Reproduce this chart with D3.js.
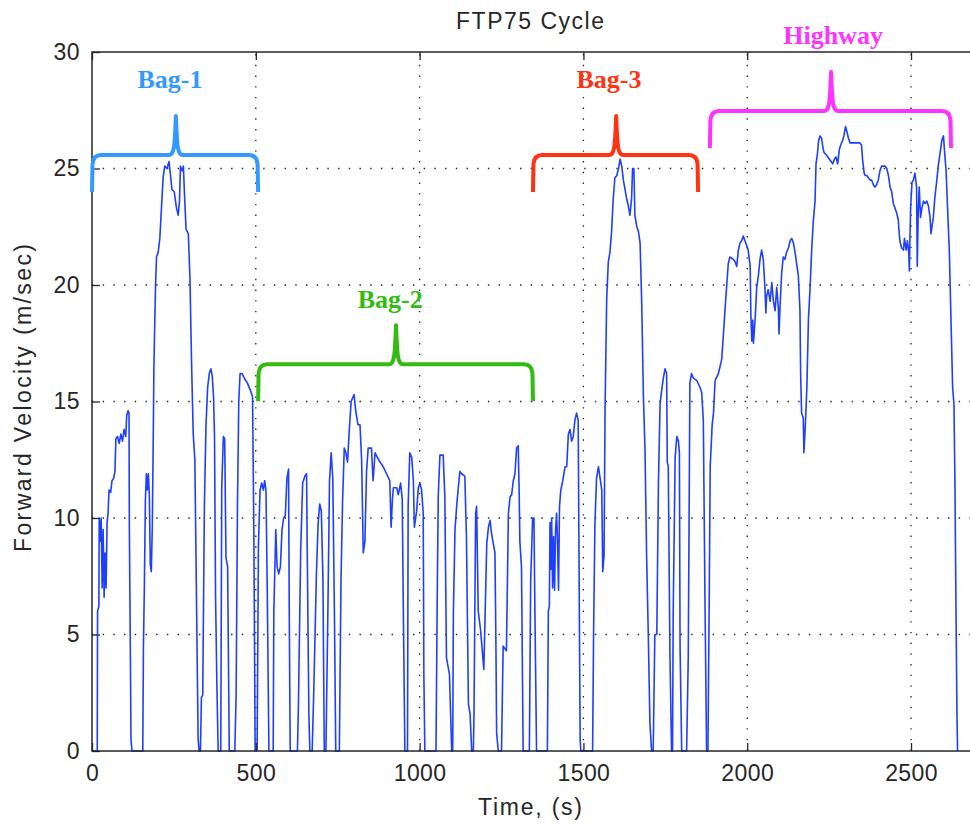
<!DOCTYPE html>
<html><head><meta charset="utf-8">
<script src="https://cdn.jsdelivr.net/npm/d3@7"></script>
<style>
html,body{margin:0;padding:0;background:#fff;}
svg{display:block;}
</style></head><body>
<svg id="chart" width="970" height="824"></svg>
<script>
// ---------- data ----------
const titleText = "FTP75 Cycle";
const xLabelText = "Time, (s)";
const yLabelText = "Forward Velocity (m/sec)";
const xTicks = [0, 500, 1000, 1500, 2000, 2500];
const yTicks = [0, 5, 10, 15, 20, 25, 30];

// [time s, velocity m/s]
const bag1 = [[0,0],[16,0],[17,6.0],[21,6.2],[22,10.0],[25,9.0],[28,10.0],[31,7.0],[34,9.5],[37,6.6],[40,8.5],[43,7.0],[46,9.8],[49,10.2],[52,11.2],[57,11.1],[61,11.6],[66,11.7],[70,12.0],[73,13.4],[78,13.5],[83,13.2],[88,13.6],[93,13.3],[98,13.8],[103,13.5],[106,14.4],[110,14.6],[113,14.5],[114,9.6],[117,4.5],[119,0.5],[122,0],
[155,0],[157,4.5],[160,7.2],[163,10.8],[166,11.9],[169,11.2],[172,11.9],[175,11.0],[178,8.0],[181,7.7],[184,9.6],[187,13.5],[189,16.5],[191,18.0],[194,20.0],[197,21.2],[202,21.4],[207,22.0],[212,23.3],[217,24.6],[222,25.1],[229,25.0],[235,25.3],[239,24.8],[244,24.1],[251,24.0],[258,23.3],[263,23.0],[267,23.6],[270,25.1],[275,24.9],[279,25.1],[282,24.0],[287,22.4],[294,22.2],[299,20.3],[304,16.6],[309,13.6],[314,12.5],[317,8.9],[321,4.0],[324,0.5],[327,0],
[331,0],[334,2.3],[338,2.4],[343,10.5],[348,14.0],[353,15.6],[358,16.2],[363,16.4],[367,16.1],[371,15.2],[374,13.5],[377,6.8],[381,3.0],[385,0],
[393,0],[396,11.3],[401,13.5],[405,13.4],[409,8.3],[414,7.9],[419,0],
[436,0],[440,2.5],[444,10.5],[448,15.0],[452,16.2],[458,16.2],[465,16.0],[474,15.8],[483,15.5],[490,15.2],[494,9.5],[498,0],[504,0]];

const bag2 = [[504,0],[506,4.5],[508,8.8],[513,11.2],[518,11.5],[523,11.2],[527,11.6],[531,11.2],[535,6.9],[540,0],
[553,0],[555,6.0],[561,9.5],[565,7.9],[570,7.6],[575,7.9],[580,9.5],[585,10.0],[590,10.1],[595,11.7],[600,12.1],[602,6.2],[605,0],
[627,0],[630,1.9],[637,8.6],[643,11.5],[650,11.8],[655,11.9],[657,8.6],[662,1.6],[665,0],
[672,0],[677,2.6],[685,7.6],[690,9.7],[695,10.6],[700,10.3],[705,7.3],[709,0],
[714,0],[720,6.0],[725,11.6],[730,12.8],[735,11.7],[740,5.9],[744,0],
[755,0],[760,7.3],[765,10.8],[770,13.0],[775,12.8],[780,12.4],[785,13.7],[791,15.0],[800,15.3],[805,14.6],[812,14.0],[818,14.0],[823,12.5],[828,8.5],[833,9.0],[838,12.0],[843,13.0],[853,13.0],[858,11.6],[864,12.8],[871,12.6],[879,12.4],[889,12.2],[899,11.9],[909,11.6],[913,9.6],[917,10.8],[920,11.3],[930,11.3],[935,11.0],[942,11.5],[947,10.8],[950,6.5],[955,0],
[963,0],[965,10.5],[970,12.8],[976,12.6],[981,11.6],[984,9.6],[991,10.3],[996,11.3],[1001,11.5],[1006,11.2],[1011,10.2],[1013,3.2],[1016,0],
[1050,0],[1054,7.0],[1057,11.0],[1062,12.7],[1072,12.7],[1077,10.9],[1082,4.0],[1091,3.3],[1098,0],
[1101,0],[1103,5.9],[1108,9.5],[1113,10.5],[1118,11.3],[1123,12.0],[1128,11.9],[1138,11.8],[1143,9.2],[1149,2.0],[1154,1.6],[1159,0],
[1164,0],[1166,1.6],[1171,10.2],[1174,10.5],[1179,6.0],[1186,5.2],[1196,3.5],[1205,8.9],[1210,9.6],[1215,9.9],[1220,9.3],[1225,8.9],[1230,8.5],[1233,4.5],[1235,0.8],[1240,0],
[1250,0],[1255,4.5],[1265,4.3],[1271,10.2],[1276,10.9],[1281,11.0],[1286,11.6],[1291,11.9],[1296,13.0],[1301,13.1],[1304,11.0],[1306,9.0],[1311,7.9],[1316,0],
[1335,0],[1339,7.3],[1345,10.0],[1349,10.0],[1352,5.9],[1357,0],[1390,0]];

const bag3 = [[1390,0],[1393,6.0],[1396,6.2],[1398,9.8],[1401,7.8],[1403,10.0],[1406,7.0],[1409,9.2],[1412,6.9],[1415,9.5],[1418,10.2],[1421,9.0],[1424,6.9],[1427,10.5],[1431,11.2],[1437,11.6],[1444,12.2],[1449,12.2],[1454,13.6],[1459,13.8],[1464,13.3],[1469,13.5],[1474,14.2],[1479,14.5],[1484,14.2],[1486,9.6],[1488,5.0],[1490,0.5],[1492,0],
[1528,0],[1531,5.0],[1535,9.7],[1540,11.7],[1546,12.2],[1551,11.7],[1556,11.2],[1559,7.7],[1563,8.4],[1566,14.6],[1571,19.4],[1576,21.0],[1581,21.4],[1586,22.3],[1591,23.7],[1596,24.6],[1602,24.7],[1607,25.0],[1612,25.4],[1617,25.1],[1622,24.5],[1627,24.1],[1632,23.7],[1637,23.4],[1642,23.0],[1647,23.7],[1650,25.0],[1654,25.0],[1657,23.0],[1663,22.5],[1668,22.3],[1673,21.8],[1678,19.2],[1683,15.3],[1688,12.9],[1693,8.3],[1698,5.0],[1703,1.2],[1708,0],
[1713,0],[1718,5.0],[1724,5.0],[1729,11.5],[1734,14.9],[1739,15.5],[1744,16.0],[1749,16.4],[1754,16.2],[1756,12.4],[1759,12.2],[1764,4.3],[1769,0],
[1772,0],[1774,5.9],[1780,12.6],[1785,13.5],[1790,13.3],[1793,12.8],[1795,4.5],[1800,0],
[1815,0],[1820,4.0],[1825,15.8],[1830,16.2],[1836,16.0],[1846,15.9],[1856,15.6],[1861,15.4],[1866,14.2],[1871,6.6],[1876,0],[1880,0]];

const highway = [[1880,0],[1884,6.5],[1887,12.2],[1893,14.0],[1897,14.5],[1902,15.9],[1912,16.2],[1917,16.5],[1922,16.8],[1927,17.8],[1932,18.9],[1937,19.9],[1942,20.9],[1947,21.2],[1958,21.1],[1963,21.0],[1968,20.8],[1973,21.5],[1978,21.8],[1983,21.9],[1988,22.1],[1993,21.9],[1998,21.7],[2003,21.5],[2009,20.8],[2011,18.8],[2014,17.6],[2017,18.5],[2019,17.5],[2024,18.5],[2029,19.9],[2034,20.4],[2039,21.1],[2044,21.5],[2049,21.1],[2054,19.9],[2057,18.8],[2059,19.5],[2064,19.8],[2070,19.3],[2075,20.1],[2080,19.3],[2085,18.9],[2090,19.9],[2095,19.0],[2097,17.9],[2100,19.0],[2105,20.5],[2110,21.2],[2115,21.1],[2120,21.4],[2126,21.6],[2131,21.9],[2136,22.0],[2141,21.8],[2146,21.4],[2151,20.9],[2156,20.4],[2161,18.9],[2163,16.2],[2166,14.5],[2171,14.3],[2173,12.8],[2176,13.6],[2179,14.5],[2182,15.6],[2187,18.6],[2192,19.9],[2197,21.6],[2202,22.8],[2207,23.6],[2210,25.2],[2214,25.6],[2218,26.2],[2222,26.4],[2227,26.3],[2230,26.0],[2234,25.7],[2240,25.6],[2246,25.5],[2251,25.4],[2256,25.3],[2261,25.2],[2266,25.4],[2271,25.5],[2276,25.2],[2281,25.8],[2285,26.0],[2291,26.2],[2295,26.4],[2300,26.8],[2304,26.6],[2309,26.3],[2314,26.1],[2324,26.1],[2334,26.1],[2344,26.1],[2349,26.0],[2352,25.4],[2357,24.8],[2360,24.7],[2365,24.7],[2370,24.6],[2375,24.5],[2380,24.5],[2385,24.3],[2390,24.2],[2395,24.3],[2400,24.5],[2405,24.9],[2410,25.1],[2416,25.1],[2421,25.1],[2426,25.0],[2431,24.7],[2436,24.2],[2441,24.0],[2446,23.5],[2451,23.3],[2456,23.1],[2461,22.8],[2464,22.2],[2466,21.9],[2471,21.6],[2477,21.5],[2480,22.0],[2485,21.5],[2489,21.9],[2493,21.4],[2495,20.6],[2497,22.2],[2499,23.4],[2503,24.4],[2507,24.5],[2512,24.8],[2517,24.2],[2519,20.8],[2522,23.1],[2525,24.2],[2529,22.9],[2533,23.3],[2538,23.6],[2543,23.5],[2548,23.6],[2553,23.4],[2558,22.9],[2561,22.2],[2564,22.5],[2568,22.9],[2573,23.8],[2578,24.4],[2583,25.1],[2588,25.6],[2594,26.2],[2599,26.4],[2602,25.8],[2607,24.9],[2611,23.5],[2617,21.4],[2622,18.5],[2627,15.6],[2631,14.9],[2634,11.6],[2637,6.5],[2640,1.8],[2642,0]];

// bracket annotations: label, time span, brace tip time (data units)
const phaseLabels = ["Bag-1", "Bag-2", "Bag-3", "Highway"];
const phaseStart  = [0, 507, 1346, 1886];
const phaseEnd    = [507, 1346, 1850, 2622];
const phaseTip    = [256, 928, 1600, 2256];
const braceLevel  = [25.58, 16.6, 25.58, 27.47];
const labelCenter = [238, 910, 1578, 2262];
const labelLevel  = [28.45, 19.0, 28.45, 30.33];

// ---------- drawing ----------
const phaseColors = ["#3399ff", "#33bb11", "#ff3311", "#ff33ff"];
const padL = 92, padR = 970, padT = 52, padB = 751;
const svg = d3.select("#chart");
const x = d3.scaleLinear().domain([0, 2680]).range([padL, padR]);
const y = d3.scaleLinear().domain([0, 30]).range([padB, padT]);
const font = "'Liberation Sans', Arial, Helvetica, sans-serif";
const ink = "#262626";

// grid
const grid = svg.append("g").attr("stroke", "#222").attr("stroke-width", 1.3)
  .attr("stroke-dasharray", "1.4,9.3").attr("fill", "none");
grid.selectAll("line.v").data(xTicks.filter(d => d > 0)).join("line").attr("class", "v")
  .attr("x1", d => x(d)).attr("x2", d => x(d)).attr("y1", y(0)).attr("y2", y(30));
grid.selectAll("line.h").data(yTicks.filter(d => d > 0 && d < 30)).join("line").attr("class", "h")
  .attr("x1", x(0)).attr("x2", x(2680)).attr("y1", d => y(d)).attr("y2", d => y(d));

// data line
const line = d3.line().x(d => x(d[0])).y(d => y(d[1]));
[bag1, bag2, bag3, highway].forEach(seg => {
  svg.append("path").datum(seg).attr("d", line)
    .attr("fill", "none").attr("stroke", "#1f3fff").attr("stroke-width", 1.6)
    .attr("stroke-linejoin", "round");
});

// axes
function styleAxis(g) {
  g.select(".domain").remove();
  g.selectAll(".tick line").attr("stroke", ink).attr("stroke-width", 1.3);
  g.selectAll(".tick text").attr("fill", ink).attr("font-size", null).attr("font-family", null)
    .style("font-family", font).style("font-size", "23px").style("letter-spacing", "0.4px");
}
svg.append("g").attr("transform", `translate(0,${padB})`)
  .call(d3.axisBottom(x).tickValues(xTicks).tickSizeInner(-8).tickSizeOuter(0).tickPadding(14).tickFormat(d3.format("d")))
  .call(styleAxis);
svg.append("g").attr("transform", `translate(0,${padT})`)
  .call(d3.axisTop(x).tickValues(xTicks).tickSizeInner(-8).tickSizeOuter(0).tickFormat(""))
  .call(styleAxis);
svg.append("g").attr("transform", `translate(${padL},0)`)
  .call(d3.axisLeft(y).tickValues(yTicks).tickSizeInner(-8).tickSizeOuter(0).tickPadding(12).tickFormat(d3.format("d")))
  .call(styleAxis);

// frame
svg.append("rect").attr("x", padL).attr("y", padT)
  .attr("width", x(2680) - padL + 2).attr("height", padB - padT)
  .attr("fill", "none").attr("stroke", ink).attr("stroke-width", 1.5);

// titles
svg.append("text").attr("x", 530).attr("y", 29).attr("text-anchor", "middle")
  .attr("fill", ink).style("font-family", font).style("font-size", "23px")
  .attr("textLength", 148).attr("lengthAdjust", "spacing").text(titleText);
svg.append("text").attr("x", 530).attr("y", 815).attr("text-anchor", "middle")
  .attr("fill", ink).style("font-family", font).style("font-size", "23px")
  .attr("textLength", 104).attr("lengthAdjust", "spacing").text(xLabelText);
svg.append("text").attr("transform", "translate(31,398) rotate(-90)").attr("text-anchor", "middle")
  .attr("fill", ink).style("font-family", font).style("font-size", "23px")
  .attr("textLength", 308).attr("lengthAdjust", "spacing").text(yLabelText);

// braces
function bracePath(x0, x1, xt, yl, yEnd, yTip) {
  const r = 9;
  return `M${x0},${yEnd} L${x0 + 0.5},${yl + r} Q${x0 + 1.5},${yl} ${x0 + r},${yl}` +
    ` L${xt - 7},${yl} C${xt - 2},${yl} ${xt - 1.2},${yl - 6} ${xt},${yTip}` +
    ` C${xt + 1.2},${yl - 6} ${xt + 2},${yl} ${xt + 7},${yl}` +
    ` L${x1 - r},${yl} Q${x1 - 1.5},${yl} ${x1 - 0.5},${yl + r} L${x1},${yEnd}`;
}
phaseLabels.forEach((lab, i) => {
  const yl = y(braceLevel[i]);
  svg.append("path")
    .attr("d", bracePath(x(phaseStart[i]), x(phaseEnd[i]), x(phaseTip[i]), yl, yl + 37, yl - 39))
    .attr("fill", "none").attr("stroke", phaseColors[i]).attr("stroke-width", 4)
    .attr("stroke-linejoin", "round");
  svg.append("text").attr("x", x(labelCenter[i])).attr("y", y(labelLevel[i]))
    .attr("text-anchor", "middle").attr("fill", phaseColors[i])
    .style("font-family", "'Liberation Serif', 'Times New Roman', serif")
    .style("font-weight", "bold").style("font-size", "26px").text(lab);
});
</script>
</body></html>
